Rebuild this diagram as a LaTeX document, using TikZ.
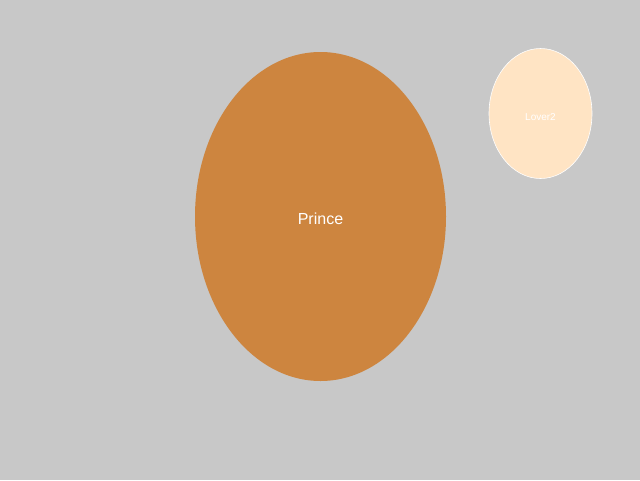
\documentclass[tikz,border=0pt]{standalone}
\usepackage{fontspec}
\setmainfont{Liberation Sans}
\usetikzlibrary{shapes.geometric}
\definecolor{BackGray}{HTML}{C8C8C8}
\definecolor{PrinceBrown}{HTML}{CD853F}
\definecolor{LoverBisque}{HTML}{FFE4C4}

\begin{document}
\begin{tikzpicture}[x=1pt, y=-1pt,
    person/.style={ellipse, inner sep=0pt, text=white, text depth=0pt}]
    \fill[BackGray] (0,0) rectangle (640,480);
    \useasboundingbox (0,0) rectangle (640,480);
    \node[person, fill=PrinceBrown, minimum width=251pt, minimum height=329pt,
      text height=15pt, font=\fontsize{16}{18}\selectfont] (prince) at (320.5,216.5) {Prince};
    \node[person, fill=LoverBisque, draw=white, line width=0.6pt,
      minimum width=103pt, minimum height=130pt, text height=13pt,
      font=\fontsize{10}{12}\selectfont] (lover2) at (540.5,113.5) {Lover2};
  \end{tikzpicture}
\end{document}
